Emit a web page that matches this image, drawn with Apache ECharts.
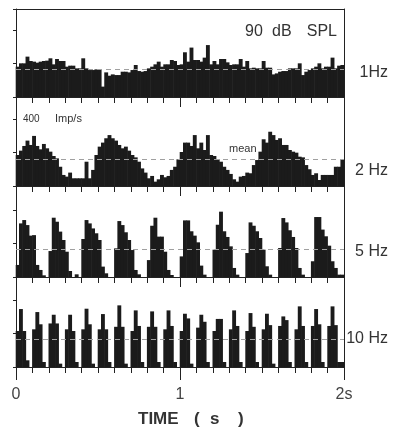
<!DOCTYPE html>
<html><head><meta charset="utf-8">
<script src="https://cdn.jsdelivr.net/npm/echarts@6/dist/echarts.min.js"></script>
<style>html,body{margin:0;padding:0;background:#fff}#c{width:398px;height:435px}</style>
</head><body><div id="c"></div>
<script>
// ---- data (impulses / s, 100 bins of 20 ms over 2 s) ----
const binWidthS = 0.02;
const rate1Hz = [181,201,201,241,215,211,205,211,215,217,
  231,195,227,215,215,181,187,187,171,171,
  231,171,161,161,165,165,62,147,127,135,
  131,131,151,151,147,161,191,155,151,155,
  171,181,195,211,181,195,195,221,215,191,
  195,267,211,295,221,221,211,235,310,195,
  215,195,227,227,207,191,195,195,227,181,
  215,171,175,171,171,215,175,175,135,141,
  151,155,155,171,171,171,201,131,151,161,
  171,181,201,171,181,181,235,171,187,191];
const rate2Hz = [185,211,239,271,245,299,239,219,251,225,
  205,179,165,115,66,56,80,46,46,46,
  46,145,46,96,185,235,259,285,304,285,
  271,245,225,235,211,185,171,145,105,80,
  46,60,26,40,66,52,60,96,115,159,
  203,259,259,239,304,225,259,215,304,185,
  179,159,145,115,96,72,40,26,56,60,
  80,76,125,155,205,279,259,324,304,275,
  285,245,245,215,205,199,175,171,125,100,
  66,76,36,66,66,66,66,115,115,159];
const rate5Hz = [72,320,340,310,247,250,72,42,10,0,
  155,354,330,271,221,151,36,0,16,0,
  227,340,320,290,261,221,62,22,0,0,
  171,334,310,267,221,161,42,16,0,0,
  101,306,354,241,241,151,42,12,0,0,
  123,338,338,273,247,207,68,14,0,0,
  163,312,390,273,239,183,54,14,0,0,
  143,326,306,273,233,163,64,14,0,0,
  173,352,326,279,239,173,54,14,0,0,
  94,358,358,283,243,187,94,54,14,14];
const rate10Hz = [215,346,215,40,0, 225,328,255,30,0, 260,312,260,20,0, 225,312,215,30,0,
  225,348,255,20,0, 225,316,225,30,0, 240,368,240,20,0, 215,338,245,30,0,
  240,332,240,30,0, 225,338,245,30,0, 215,318,290,20,0, 235,312,270,30,0,
  215,287,287,30,0, 225,338,245,30,0, 215,322,240,30,0, 225,318,250,20,0,
  245,302,280,30,0, 225,362,245,30,0, 245,346,255,30,0, 245,362,250,30,30];
const meanRates = [167, 161, 167, 167];
const panelLabels = ['1Hz', '2 Hz', '5 Hz', '10 Hz'];
const timeTickLabels = {0: '0', 1: '1', 2: '2s'};
const series4 = [rate1Hz, rate2Hz, rate5Hz, rate10Hz];

// ---- layout ----
const plotLeft = 16, plotWidth = 328;
const tops = [9, 97, 186, 277];
const heights = [88, 89, 91, 90];
const pxPerRate = 0.1675;
const ink = '#222';
const txt = '#333';

const grid = [], xAxis = [], yAxis = [], series = [];
series4.forEach((vals, i) => {
  grid.push({left: plotLeft, width: plotWidth, top: tops[i], height: heights[i]});
  const last = i === 3;
  xAxis.push({
    type: 'value', gridIndex: i, min: 0, max: 2, interval: 1, position: 'bottom',
    axisLine: {show: true, onZero: false, lineStyle: {color: ink, width: 1}},
    axisTick: {show: true, length: last ? 13 : 10, lineStyle: {color: ink, width: 1}},
    minorTick: {show: true, splitNumber: 10, length: 6, lineStyle: {color: ink, width: 1}},
    axisLabel: {show: last, margin: 20, fontSize: 16, color: '#444', fontFamily: 'Liberation Sans',
      formatter: v => { const r = Math.round(v); return Math.abs(v - r) < 1e-6 && timeTickLabels[r] !== undefined ? timeTickLabels[r] : ''; }},
    splitLine: {show: false}, minorSplitLine: {show: false}
  });
  yAxis.push({
    type: 'value', gridIndex: i, min: 0, max: heights[i] / pxPerRate, interval: 200, position: 'left',
    axisLine: {show: true, onZero: false, lineStyle: {color: ink, width: 1}},
    axisTick: {show: true, length: 3, lineStyle: {color: ink}},
    axisLabel: {show: false}, splitLine: {show: false}
  });
  yAxis.push({
    type: 'value', gridIndex: i, min: 0, max: heights[i] / pxPerRate, position: 'right',
    axisLine: {show: true, onZero: false, lineStyle: {color: ink, width: 1}},
    axisTick: {show: false}, axisLabel: {show: false}, splitLine: {show: false}
  });
  series.push({
    type: 'bar', xAxisIndex: i, yAxisIndex: 2 * i,
    data: vals.map((v, k) => [(k + 0.5) * binWidthS, v]),
    barWidth: plotWidth / vals.length + 0.6, barGap: '-100%',
    itemStyle: {color: '#1b1b1b'},
    markLine: {silent: true, symbol: 'none', label: {show: false},
      lineStyle: {color: '#a0a0a0', type: [5, 4], width: 1},
      data: [{yAxis: meanRates[i]}]}
  });
});
// top frame line
xAxis.push({type: 'value', gridIndex: 0, min: 0, max: 2, position: 'top',
  axisLine: {show: true, onZero: false, lineStyle: {color: ink, width: 1}},
  axisTick: {show: false}, axisLabel: {show: false}, splitLine: {show: false}});

const labelY = [72.5, 170.5, 252, 339];
const graphic = [];
const T = (x, y, text, font, align) => graphic.push({type: 'text', x, y,
  style: {text, font, fill: txt, textAlign: align || 'left', textVerticalAlign: 'middle'}});
panelLabels.forEach((s, i) => T(388, labelY[i], s, '16px "Liberation Sans"', 'right'));
T(245, 32, '90', '16px "Liberation Sans"');
T(272, 32, 'dB', '16px "Liberation Sans"');
T(337, 32, 'SPL', '16px "Liberation Sans"', 'right');
T(23, 119, '400', '10px "Liberation Sans"');
T(55, 119, 'Imp/s', '11px "Liberation Sans"');
T(229, 149, 'mean', '11px "Liberation Sans"');
T(138, 419, 'TIME', 'bold 17px "Liberation Sans"');
T(194, 419, '(', 'bold 17px "Liberation Sans"');
T(210, 419, 's', 'bold 17px "Liberation Sans"');
T(238, 419, ')', 'bold 17px "Liberation Sans"');

const chart = echarts.init(document.getElementById('c'));
chart.setOption({animation: false, backgroundColor: '#fff', grid, xAxis, yAxis, series, graphic});
</script></body></html>
